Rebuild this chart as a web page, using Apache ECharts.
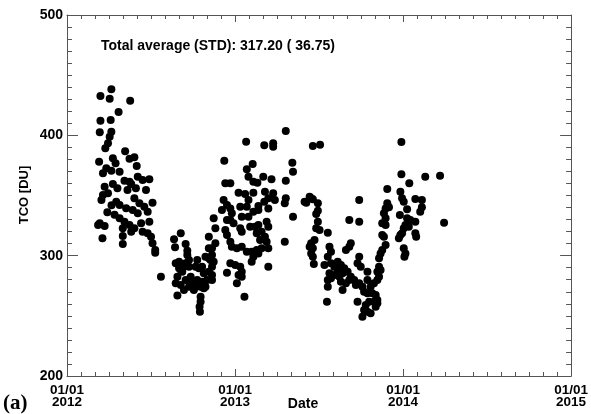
<!DOCTYPE html>
<html><head><meta charset="utf-8">
<script src="https://cdn.jsdelivr.net/npm/echarts@6/dist/echarts.min.js"></script>
<style>html,body{margin:0;padding:0;background:#fff}#c{width:591px;height:414px}</style>
</head><body><div id="c"></div>
<script>
// x tick labels (years, decimal-year axis) and y range
const xYears = [2012, 2013, 2014, 2015];
const yRange = [200, 500];
const statsText = 'Total average (STD): 317.20 ( 36.75)';
const xTitle = 'Date';
const yTitle = 'TCO [DU]';
const panelTag = '(a)';

// observations: [decimal year, TCO in DU]
const season2012Spring = [
[2012.264,438.3],[2012.199,432.7],[2012.254,430.4],[2012.376,428.8],[2012.307,419.4],[2012.199,412.2],[2012.260,412.7],[2012.195,402.5],[2012.264,403.0],[2012.254,398.9],
[2012.244,393.4],[2012.228,389.2],[2012.346,386.7],[2012.372,380.6],[2012.401,381.8],[2012.415,374.5],[2012.191,378.1],[2012.273,380.9],[2012.289,376.8],[2012.234,372.6],
[2012.214,368.5],[2012.313,369.8],[2012.264,370.6],[2012.421,365.6],[2012.450,362.9],[2012.490,363.5],[2012.342,362.3],[2012.382,359.6],[2012.372,361.5],[2012.224,357.3],
[2012.273,359.6],[2012.214,350.4],[2012.205,346.3],[2012.244,351.8],[2012.470,354.6],[2012.293,344.9],[2012.313,342.1],[2012.401,347.7],[2012.431,343.5],[2012.509,344.0],
[2012.460,340.7],[2012.352,339.4],[2012.391,338.0],[2012.421,335.2],[2012.480,336.5],[2012.283,334.0],[2012.313,331.1],[2012.342,328.2],[2012.195,326.9],[2012.224,324.7],
[2012.185,325.5],[2012.372,325.5],[2012.401,322.7],[2012.441,326.9],[2012.490,328.2],[2012.332,322.7],[2012.382,319.9],[2012.450,319.9],[2012.480,318.6],[2012.500,315.8],
[2012.211,314.4],[2012.332,316.4],[2012.332,309.7],[2012.509,310.3],[2012.525,304.7],[2012.525,302.5],[2012.559,282.5],
[2012.265,342.0],[2012.360,354.6],[2012.300,356.0],[2012.240,336.0],[2012.410,356.0]
];
const season2012Autumn = [
[2012.677,318.6],[2012.637,313.6],[2012.643,306.9],[2012.706,309.7],[2012.716,304.1],[2012.647,293.6],[2012.667,289.5],[2012.696,290.8],[2012.686,286.7],[2012.657,282.5],
[2012.647,277.0],[2012.677,275.6],[2012.706,279.8],[2012.736,282.5],[2012.657,267.0],[2012.696,271.4],[2012.726,274.2],[2012.745,277.0],[2012.755,271.4],[2012.775,296.4],
[2012.785,289.5],[2012.804,290.8],[2012.814,285.3],[2012.775,279.8],[2012.795,274.2],[2012.814,272.9],[2012.765,274.2],[2012.795,265.9],[2012.795,261.7],[2012.789,257.6],
[2012.791,253.4],[2012.824,299.1],[2012.854,296.4],[2012.863,290.8],[2012.844,286.7],[2012.863,283.9],[2012.834,279.8],[2012.824,274.2],[2012.804,278.3],[2012.844,315.7],
[2012.863,306.1],[2012.873,331.0],[2012.883,322.7],[2012.863,279.8],[2012.706,293.6],[2012.726,296.4],[2012.667,295.0],[2012.726,290.8],[2012.765,290.8],[2012.677,288.1],
[2012.716,300.5],[2012.873,295.0],[2012.883,310.3],[2012.863,300.5],[2012.844,297.8],[2012.952,285.8],[2012.844,306.1]
];
const season2013Spring = [
[2013.302,403.6],[2013.066,394.7],[2013.174,391.7],[2013.227,393.4],[2013.227,390.5],[2012.936,378.9],[2013.105,376.2],[2013.070,371.8],[2013.080,365.6],[2013.109,361.5],
[2013.133,360.6],[2013.168,365.6],[2013.217,363.5],[2013.341,377.2],[2013.345,369.8],[2013.302,362.3],[2012.942,360.1],[2012.972,360.1],[2013.021,352.3],[2013.060,351.2],
[2013.109,352.3],[2013.178,353.1],[2013.227,351.8],[2013.237,346.2],[2013.302,347.7],[2013.296,343.5],[2012.932,346.2],[2012.952,342.1],[2012.972,339.3],[2012.922,337.9],
[2013.031,340.7],[2013.070,340.7],[2013.080,346.2],[2013.139,341.3],[2013.174,344.8],[2013.198,347.7],[2012.981,335.2],[2012.972,329.6],[2012.991,326.9],[2012.952,329.6],
[2013.040,332.4],[2013.080,332.4],[2013.109,336.5],[2013.139,337.9],[2013.198,339.3],[2013.345,332.4],[2013.031,322.7],[2013.040,319.9],[2013.090,324.1],[2013.119,324.1],
[2013.139,325.5],[2013.188,328.2],[2013.198,324.1],[2012.942,321.3],[2012.952,317.2],[2013.129,318.6],[2013.158,319.9],[2013.178,315.7],[2013.188,311.6],[2013.149,313.0],
[2012.972,311.6],[2012.981,307.4],[2013.011,306.1],[2013.040,307.4],[2013.070,303.3],[2013.099,303.3],[2013.129,304.7],[2013.158,306.1],[2013.198,306.1],[2013.139,301.9],
[2013.109,299.1],[2013.296,311.6],[2013.099,295.0],[2013.198,290.8],[2012.972,293.6],[2013.001,292.2],[2013.031,290.8],[2013.040,286.7],[2013.021,283.9],[2013.011,277.0],
[2013.040,282.5],[2013.056,265.9]
];
const season2013Autumn = [
[2013.414,344.8],[2013.453,347.7],[2013.463,391.1],[2013.506,392.2],[2013.990,394.4],[2013.990,367.6],[2014.132,365.6],[2014.220,366.4],[2014.037,360.1],[2013.906,355.4],
[2013.984,353.1],[2013.994,347.7],[2014.004,344.8],[2014.073,347.1],[2014.112,346.2],[2013.739,346.2],[2013.444,349.0],[2013.424,344.0],[2013.463,346.8],[2013.493,343.5],
[2013.906,343.5],[2013.896,339.3],[2013.916,340.2],[2014.024,338.5],[2014.112,340.2],[2014.102,336.5],[2013.493,337.4],[2013.483,334.6],[2013.886,335.2],[2013.896,331.0],
[2013.876,326.9],[2013.896,325.5],[2013.981,333.8],[2014.024,331.0],[2014.043,329.6],[2013.680,329.6],[2013.739,328.2],[2013.493,328.2],[2013.483,322.7],[2013.503,321.3],
[2014.244,327.4],[2014.073,328.2],[2014.014,325.5],[2014.004,322.7],[2013.994,318.6],[2013.975,314.4],[2014.034,324.1],[2014.073,318.6],[2013.552,319.1],[2013.876,317.2],
[2013.453,310.3],[2013.463,306.1],[2013.444,307.4],[2013.473,313.0],[2013.453,301.9],[2013.463,299.1],[2013.469,293.1],[2013.562,307.4],[2013.571,303.3],[2013.552,299.1],
[2013.689,310.3],[2013.680,307.4],[2013.660,304.7],[2013.896,308.8],[2013.876,304.7],[2013.866,301.9],[2013.857,297.8],[2014.004,306.1],[2014.014,301.9],[2014.008,299.1],
[2013.532,292.2],[2013.571,293.6],[2013.591,290.8],[2013.611,288.1],[2013.630,292.2],[2013.650,289.5],[2013.739,299.1],[2013.729,293.6],[2013.748,290.8],[2013.857,290.8],
[2013.847,286.7],[2013.866,288.1],[2013.562,285.3],[2013.591,283.9],[2013.621,282.5],[2013.640,285.3],[2013.670,286.7],[2013.689,282.5],[2013.680,279.8],[2013.788,286.7],
[2013.552,279.8],[2013.571,281.2],[2013.630,278.3],[2013.660,277.0],[2013.709,279.8],[2013.719,275.6],[2013.739,277.0],[2013.788,279.8],[2013.807,274.2],[2013.827,277.0],
[2013.847,279.8],[2013.552,274.2],[2013.640,271.4],[2013.758,274.2],[2013.768,270.0],[2013.788,268.7],[2013.817,268.7],[2013.837,267.3],[2013.847,263.1],[2013.827,261.7],
[2013.798,261.7],[2013.778,259.0],[2013.768,254.8],[2013.788,253.4],[2013.758,249.3],[2013.807,252.1],[2013.847,260.4],[2013.547,261.7],[2013.729,261.7],[2013.611,295.0],
[2013.857,282.5],[2013.886,315.7],[2013.837,257.6],[2013.984,317.2],[2014.078,315.7]
];

const F = '"Liberation Sans", Arial, Helvetica, sans-serif';
const axisCol = '#555';
const lineStyle = {color: axisCol, width: 1};

function xAx(pos, showLabels) {
  return {
    type: 'value', position: pos, min: xYears[0], max: xYears[xYears.length - 1], interval: 1,
    axisLine: {show: true, onZero: false, lineStyle},
    axisTick: {show: true, inside: true, length: 7, lineStyle},
    minorTick: {show: true, splitNumber: 12, length: 4, lineStyle},
    splitLine: {show: false},
    axisLabel: showLabels ? {
      show: true, margin: 8, color: '#000', fontFamily: F, fontWeight: 'bold', fontSize: 13.5,
      lineHeight: 12, formatter: v => '01/01\n' + v
    } : {show: false}
  };
}
function yAx(pos, showLabels) {
  return {
    type: 'value', position: pos, min: yRange[0], max: yRange[1], interval: 100,
    axisLine: {show: true, onZero: false, lineStyle},
    axisTick: {show: true, inside: true, length: 11, lineStyle},
    minorTick: {show: true, splitNumber: 10, length: 5, lineStyle},
    splitLine: {show: false},
    axisLabel: showLabels ? {show: true, margin: 4, color: '#000', fontFamily: F, fontWeight: 'bold', fontSize: 14} : {show: false}
  };
}

const chart = echarts.init(document.getElementById('c'), null, {renderer: 'canvas'});
const mk = (d) => ({
  type: 'scatter', data: d, xAxisIndex: 0, yAxisIndex: 0, symbol: 'circle', symbolSize: 8,
  itemStyle: {color: '#000', opacity: 1}, silent: true
});
chart.setOption({
  animation: false,
  backgroundColor: '#fff',
  grid: {left: 67, right: 16, top: 15, bottom: 38, containLabel: false},
  xAxis: [xAx('bottom', true), xAx('top', false)],
  yAxis: [yAx('left', true), yAx('right', false)],
  graphic: [
    {type: 'text', left: 101, top: 39, style: {text: statsText, fill: '#000', font: 'bold 14px ' + F}},
    {type: 'text', x: 24, y: 195, rotation: Math.PI / 2, style: {text: yTitle, fill: '#000', font: 'bold 13px ' + F, textAlign: 'center', textVerticalAlign: 'middle'}},
    {type: 'text', x: 303, y: 404, style: {text: xTitle, fill: '#000', font: 'bold 14px ' + F, textAlign: 'center', textVerticalAlign: 'middle'}},
    {type: 'text', x: 3, y: 404, style: {text: panelTag, fill: '#000', font: 'bold 21px "Liberation Serif", "Times New Roman", serif', textAlign: 'left', textVerticalAlign: 'middle'}}
  ],
  series: [mk(season2012Spring), mk(season2012Autumn), mk(season2013Spring), mk(season2013Autumn)]
});
</script></body></html>
